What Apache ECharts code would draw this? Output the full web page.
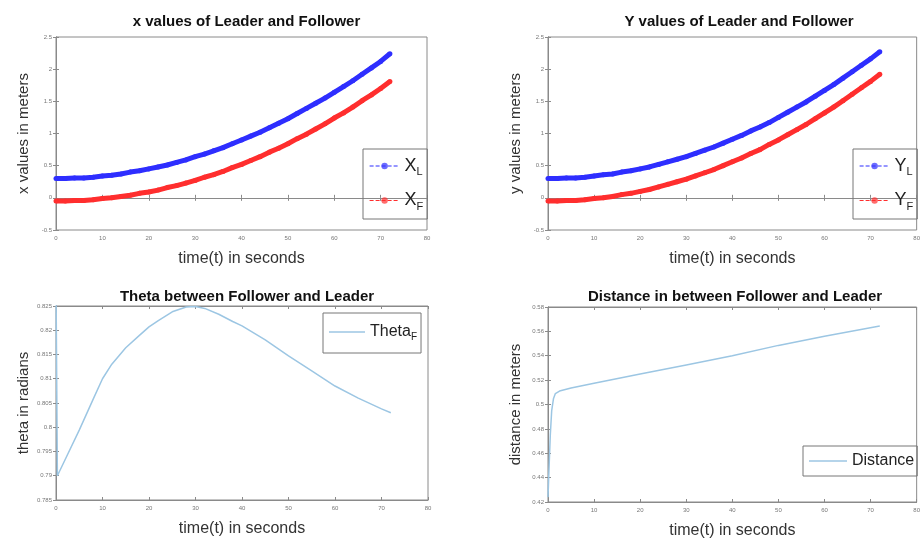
<!DOCTYPE html>
<html>
<head>
<meta charset="utf-8">
<script src="https://cdn.jsdelivr.net/npm/echarts@6/dist/echarts.min.js"></script>
<style>
  html, body { margin: 0; padding: 0; background: #fff; }
  #chart { width: 923px; height: 542px; }
</style>
</head>
<body>
<div id="chart"></div>
<script>
// time samples for the leader / follower positions
const time = [0, 2, 4, 6, 8, 10, 12, 14, 16, 18, 20, 22, 24, 26, 28, 30, 32, 34, 36,
  38, 40, 42, 44, 46, 48, 50, 52, 54, 56, 58, 60, 62, 64, 66, 68, 70, 72];
const xLeader = [0.30, 0.30, 0.31, 0.31, 0.32, 0.34, 0.35, 0.37, 0.40, 0.42, 0.45, 0.48,
  0.51, 0.55, 0.59, 0.64, 0.68, 0.73, 0.78, 0.84, 0.90, 0.96, 1.02, 1.09, 1.16, 1.23,
  1.31, 1.39, 1.47, 1.55, 1.64, 1.73, 1.82, 1.92, 2.02, 2.12, 2.24];
const xFollower = [-0.05, -0.05, -0.04, -0.04, -0.03, -0.01, 0.00, 0.02, 0.04, 0.07, 0.09,
  0.12, 0.16, 0.19, 0.23, 0.27, 0.32, 0.36, 0.41, 0.47, 0.52, 0.58, 0.64, 0.71, 0.77,
  0.84, 0.92, 0.99, 1.07, 1.15, 1.24, 1.32, 1.41, 1.51, 1.60, 1.70, 1.81];
const yLeader = [0.30, 0.30, 0.31, 0.31, 0.32, 0.34, 0.36, 0.37, 0.40, 0.42, 0.45, 0.48,
  0.52, 0.56, 0.60, 0.64, 0.69, 0.74, 0.79, 0.85, 0.91, 0.97, 1.04, 1.10, 1.17, 1.25,
  1.33, 1.41, 1.49, 1.58, 1.67, 1.76, 1.86, 1.96, 2.06, 2.16, 2.27];
const yFollower = [-0.05, -0.05, -0.04, -0.04, -0.03, -0.01, 0.00, 0.02, 0.05, 0.07, 0.10,
  0.13, 0.17, 0.21, 0.25, 0.29, 0.34, 0.39, 0.44, 0.50, 0.56, 0.62, 0.69, 0.75, 0.83,
  0.90, 0.98, 1.06, 1.14, 1.23, 1.32, 1.41, 1.51, 1.61, 1.71, 1.81, 1.92];

// theta between follower and leader
const thetaTime = [0, 0.3, 2, 5, 8, 10, 12, 15, 18, 20, 22, 25, 28, 30, 32, 35, 38, 40,
  45, 50, 55, 60, 65, 70, 72];
const thetaF = [0.83, 0.790, 0.7934, 0.7994, 0.8058, 0.8100, 0.8130, 0.8164, 0.8190,
  0.8207, 0.8220, 0.8238, 0.8248, 0.8249, 0.8245, 0.8233, 0.8218, 0.8209, 0.8180,
  0.8147, 0.8116, 0.8085, 0.8060, 0.8038, 0.8030];

// distance between follower and leader
const distTime = [0, 0.2, 0.5, 0.8, 1.2, 1.6, 2.5, 5, 10, 20, 30, 40, 50, 60, 72];
const distance = [0.424, 0.445, 0.475, 0.495, 0.505, 0.509, 0.511, 0.5135, 0.5175,
  0.525, 0.5325, 0.540, 0.5485, 0.556, 0.5645];

// axis ranges
const timeRange = [0, 80, 10];
const posRange = [-0.5, 2.5, 0.5];
const thetaRange = [0.785, 0.825, 0.005];
const distRange = [0.42, 0.58, 0.02];

const titles = [
  'x values of Leader and Follower',
  'Y values of Leader and Follower',
  'Theta between Follower and Leader',
  'Distance in between Follower and Leader'
];
const yNames = ['x values in meters', 'y values in meters', 'theta in radians', 'distance in meters'];

const grids = [
  {left: 56, top: 37, width: 371, height: 193},
  {left: 548, top: 37, width: 372, height: 193},
  {left: 56, top: 306, width: 372, height: 194},
  {left: 548, top: 307, width: 372, height: 195}
];
const yRanges = [posRange, posRange, thetaRange, distRange];

const font = 'Liberation Sans, Arial, Helvetica, sans-serif';
const axisColor = '#8a8a8a';

function fmt(v) {
  return String(parseFloat(v.toFixed(3)));
}

let xAxes = [], yAxes = [];
grids.forEach((g, i) => {
  [false, true].forEach(mirror => {
    xAxes.push({
      type: 'value', gridIndex: i, position: mirror ? 'top' : 'bottom',
      min: timeRange[0], max: timeRange[1], interval: timeRange[2],
      name: mirror ? '' : 'time(t) in seconds', nameLocation: 'middle', nameGap: 21,
      nameTextStyle: {fontFamily: font, fontSize: 16, color: '#333'},
      axisLine: {show: true, lineStyle: {color: axisColor}},
      axisTick: {show: true, inside: true, length: 3, lineStyle: {color: axisColor}},
      axisLabel: {show: !mirror, fontSize: 6, color: '#777', margin: 5, fontFamily: font},
      splitLine: {show: false}
    });
    const r = yRanges[i];
    yAxes.push({
      type: 'value', gridIndex: i, position: mirror ? 'right' : 'left',
      min: r[0], max: r[1], interval: r[2],
      name: mirror ? '' : yNames[i], nameLocation: 'middle', nameGap: 25, nameRotate: 90,
      nameTextStyle: {fontFamily: font, fontSize: 15, color: '#333'},
      axisLine: {show: true, lineStyle: {color: axisColor}},
      axisTick: {show: true, inside: true, length: 3, lineStyle: {color: axisColor}},
      axisLabel: {show: !mirror, fontSize: 6, color: '#777', margin: 4, fontFamily: font, formatter: fmt},
      splitLine: {show: false}
    });
  });
});

const titleOpts = titles.map((t, i) => ({
  text: t,
  left: grids[i].left + grids[i].width / 2 + (i === 3 ? -4 : 0),
  top: i < 2 ? 9 : 284,
  textAlign: 'center',
  textStyle: {fontFamily: font, fontSize: 15, fontWeight: 'bold', color: '#111'}
}));

function pairs(ts, vs) {
  return ts.map((t, k) => [t, vs[k]]);
}

const blue = '#2e2eff';
const red = '#ff2e2e';
const pale = '#9cc6e3';

function markerSeries(name, ts, vs, color, gi) {
  return {
    name: name, type: 'line', xAxisIndex: gi * 2, yAxisIndex: gi * 2,
    data: pairs(ts, vs), symbol: 'circle', symbolSize: 5,
    itemStyle: {color: color},
    lineStyle: {color: color, width: 5},
    animation: false
  };
}

const series = [
  markerSeries('XL', time, xLeader, blue, 0),
  markerSeries('XF', time, xFollower, red, 0),
  markerSeries('YL', time, yLeader, blue, 1),
  markerSeries('YF', time, yFollower, red, 1),
  {
    name: 'ThetaF', type: 'line', xAxisIndex: 4, yAxisIndex: 4,
    data: pairs(thetaTime, thetaF), symbol: 'none', clip: true,
    itemStyle: {color: pale}, lineStyle: {color: pale, width: 1.5}, animation: false
  },
  {
    name: 'Distance', type: 'line', xAxisIndex: 6, yAxisIndex: 6,
    data: pairs(distTime, distance), symbol: 'none', clip: true,
    itemStyle: {color: pale}, lineStyle: {color: pale, width: 1.5}, animation: false
  }
];

function legendBox(names, left, top, gap, itemW, fs, ss) {
  const subs = {XL: ['X', 'L'], XF: ['X', 'F'], YL: ['Y', 'L'], YF: ['Y', 'F'], ThetaF: ['Theta', 'F']};
  return {
    data: names, orient: 'vertical', left: left, top: top,
    itemGap: gap, itemWidth: itemW, itemHeight: 8,
    borderColor: '#777', borderWidth: 1, padding: [8, 4, 7, 6],
    selectedMode: false,
    lineStyle: {width: 1.2, type: [4, 2]},
    itemStyle: {opacity: 0.7},
    textStyle: {
      fontFamily: font, fontSize: fs, color: '#222',
      rich: {
        m: {fontFamily: font, fontSize: fs, color: '#222'},
        s: {fontFamily: font, fontSize: ss, color: '#222', padding: [Math.round(fs * 0.65), 0, 0, 0]}
      }
    },
    formatter: function (n) {
      const sub = subs[n];
      return sub ? '{m|' + sub[0] + '}{s|' + sub[1] + '}' : n;
    }
  };
}

const plainLegend = {icon: 'rect', itemHeight: 1.5, itemStyle: {color: pale}, lineStyle: null};

const option = {
  backgroundColor: '#ffffff',
  title: titleOpts,
  grid: grids.map(g => Object.assign({show: true, borderColor: axisColor, borderWidth: 1}, g)),
  xAxis: xAxes,
  yAxis: yAxes,
  legend: [
    legendBox(['XL', 'XF'], 363, 149, 14, 30, 18, 11),
    legendBox(['YL', 'YF'], 853, 149, 14, 30, 18, 11),
    Object.assign(legendBox(['ThetaF'], 323, 313, 10, 36, 16, 10), plainLegend, {padding: [11, 4, 11, 6]}),
    Object.assign(legendBox(['Distance'], 803, 446, 10, 38, 16, 10), plainLegend, {padding: [7, 3, 7, 6]})
  ],
  series: series
};

const chart = echarts.init(document.getElementById('chart'));
chart.setOption(option);
</script>
</body>
</html>
